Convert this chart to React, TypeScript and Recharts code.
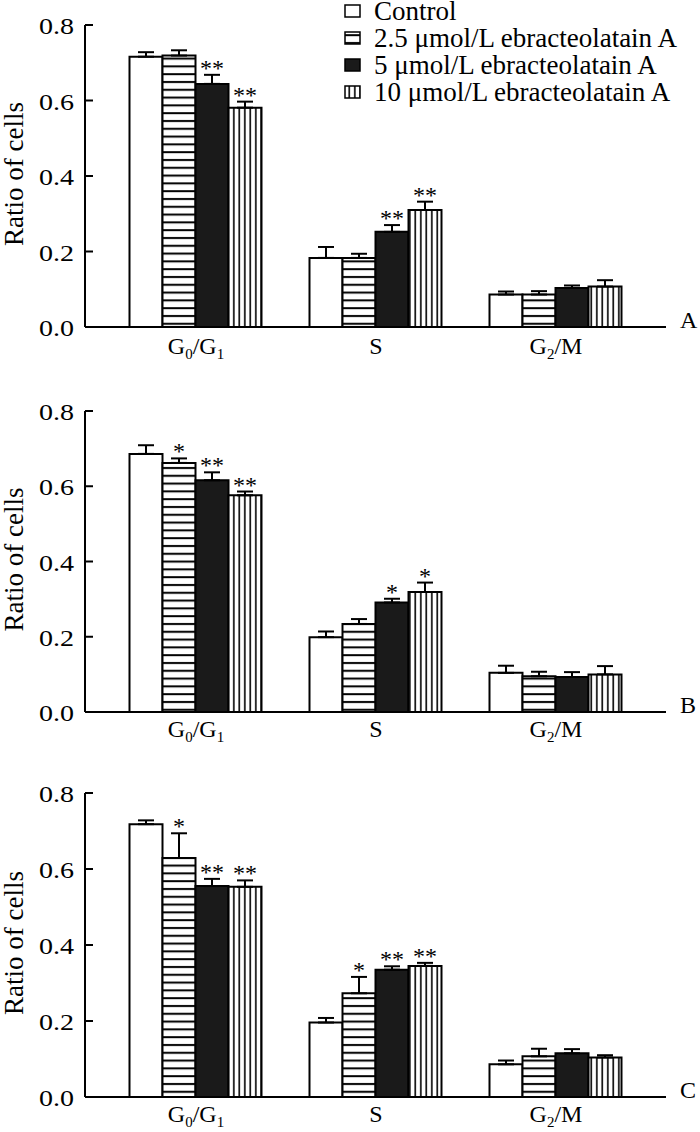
import React from 'react';
import { BarChart, Bar, XAxis, YAxis, ErrorBar, LabelList, Legend } from 'recharts';

const FONT = '"Liberation Serif", "Times New Roman", serif';

const categories = ['G_0/G_1', 'S', 'G_2/M'];
const seriesKeys = ['ctrl', 'd25', 'd5', 'd10'];
const seriesNames = [
  'Control',
  '2.5 μmol/L ebracteolatain A',
  '5 μmol/L ebracteolatain A',
  '10 μmol/L ebracteolatain A',
];
const yTicks = [0, 0.2, 0.4, 0.6, 0.8];

// panel A
const ctrlA = [0.716, 0.183, 0.086];
const ctrlAErr = [0.012, 0.029, 0.008];
const d25A = [0.719, 0.183, 0.086];
const d25AErr = [0.014, 0.011, 0.009];
const d5A = [0.644, 0.252, 0.103];
const d5AErr = [0.024, 0.018, 0.007];
const d10A = [0.581, 0.31, 0.107];
const d10AErr = [0.016, 0.022, 0.017];
const sigA = [['', '', ''], ['', '', ''], ['**', '**', ''], ['**', '**', '']];

// panel B
const ctrlB = [0.686, 0.199, 0.104];
const ctrlBErr = [0.023, 0.015, 0.019];
const d25B = [0.662, 0.234, 0.095];
const d25BErr = [0.012, 0.013, 0.012];
const d5B = [0.616, 0.291, 0.093];
const d5BErr = [0.021, 0.01, 0.013];
const d10B = [0.576, 0.319, 0.1];
const d10BErr = [0.01, 0.025, 0.022];
const sigB = [['', '', ''], ['*', '', ''], ['**', '*', ''], ['**', '*', '']];

// panel C
const ctrlC = [0.718, 0.196, 0.086];
const ctrlCErr = [0.01, 0.012, 0.01];
const d25C = [0.629, 0.273, 0.107];
const d25CErr = [0.065, 0.043, 0.02];
const d5C = [0.555, 0.335, 0.115];
const d5CErr = [0.019, 0.009, 0.011];
const d10C = [0.553, 0.345, 0.104];
const d10CErr = [0.017, 0.008, 0.006];
const sigC = [['', '', ''], ['*', '*', ''], ['**', '**', ''], ['**', '**', '']];

function buildRows(means: number[][], errs: number[][], sigs: string[][]) {
  return categories.map((name, i) => {
    const row: any = { name };
    seriesKeys.forEach((k, s) => {
      row[k] = means[s][i];
      row[k + 'Err'] = [0, errs[s][i]];
      row[k + 'Sig'] = sigs[s][i];
    });
    return row;
  });
}

function Patterns({ id }: { id: string }) {
  return (
    <defs>
      <pattern id={`h${id}`} patternUnits="userSpaceOnUse" width={6} height={7.8}>
        <rect width={6} height={7.8} fill="#fff" />
        <rect y={3} width={6} height={2} fill="#000" />
      </pattern>
      <pattern id={`v${id}`} patternUnits="userSpaceOnUse" width={5.5} height={6}>
        <rect width={5.5} height={6} fill="#fff" />
        <rect x={2} width={1.6} height={6} fill="#000" />
      </pattern>
    </defs>
  );
}

const fillsFor = (id: string) => ['#fff', `url(#h${id})`, '#1a1a1a', `url(#v${id})`];

function XTick({ x, y, payload, drop }: any) {
  const parts = String(payload.value).split(/_(\d)/);
  return (
    <text x={x} y={y + drop} textAnchor="middle" fontFamily={FONT} fontSize={24} fill="#000">
      {parts.map((p, i) =>
        i % 2 === 1 ? (
          <tspan key={i} fontSize={15} dy={5}>{p}</tspan>
        ) : (
          <tspan key={i} dy={i > 0 ? -5 : 0}>{p}</tspan>
        )
      )}
    </text>
  );
}

function YTick({ x, y, payload }: any) {
  return (
    <g>
      <line x1={x + 11} x2={x + 19} y1={y} y2={y} stroke="#000" strokeWidth={2} />
      <text
        transform={`translate(${x},${y + 9}) scale(1.22,1)`}
        textAnchor="end"
        fontFamily={FONT}
        fontSize={23}
        fill="#000"
      >
        {Number(payload.value).toFixed(1)}
      </text>
    </g>
  );
}

function YLabel({ viewBox }: any) {
  const cy = viewBox.y + viewBox.height / 2 - 2;
  return (
    <text
      transform={`translate(23,${cy}) rotate(-90)`}
      textAnchor="middle"
      fontFamily={FONT}
      fontSize={27}
      fill="#000"
    >
      Ratio of cells
    </text>
  );
}

function PanelLetter({ viewBox, letter }: any) {
  return (
    <text x={viewBox.x + viewBox.width + 14} y={viewBox.y + 1} fontFamily={FONT} fontSize={24} fill="#000">
      {letter}
    </text>
  );
}

function starContent(means: number[][], errs: number[][], s: number) {
  return (props: any) => {
    const vb = props.viewBox ?? props;
    const { x, y, width, height } = vb;
    const { value, index } = props;
    if (!value) return null;
    const v = means[s][index];
    const e = errs[s][index];
    const top = y - (e * height) / v;
    return (
      <text x={x + width / 2} y={top + 1} textAnchor="middle" fontFamily={FONT} fontSize={24} fill="#000">
        {value}
      </text>
    );
  };
}

function LegendBox() {
  return (
    <svg width={700} height={110} style={{ display: 'block' }}>
      <Patterns id="L" />
      {seriesNames.map((name, i) => {
        const cy = 11 + i * 27;
        return (
          <g key={name}>
            <rect x={345} y={cy - 6} width={15} height={12} fill={fillsFor('L')[i]} stroke="#000" strokeWidth={1.5} />
            <text x={374} y={cy + 9} fontFamily={FONT} fontSize={27} fill="#000">
              {name}
            </text>
          </g>
        );
      })}
    </svg>
  );
}

interface PanelProps {
  id: string;
  letter: string;
  means: number[][];
  errs: number[][];
  sigs: string[][];
  height: number;
  labelDrop: number;
  showLegend?: boolean;
}

function Panel({ id, letter, means, errs, sigs, height, labelDrop, showLegend }: PanelProps) {
  const data = buildRows(means, errs, sigs);
  const fills = fillsFor(id);
  return (
    <BarChart
      width={700}
      height={height}
      data={data}
      margin={{ top: 25, right: 34, left: 0, bottom: 0 }}
      barGap={0}
      barCategoryGap={23.5}
    >
      <Patterns id={id} />
      <XAxis
        dataKey="name"
        interval={0}
        tickLine={false}
        tickSize={0}
        tickMargin={0}
        height={38}
        padding={{ left: 21, right: 20 }}
        axisLine={{ stroke: '#000', strokeWidth: 2 }}
        tick={<XTick drop={labelDrop} />}
        label={<PanelLetter letter={letter} />}
      />
      <YAxis
        domain={[0, 0.8]}
        ticks={yTicks}
        width={85}
        tickLine={false}
        tickSize={0}
        tickMargin={11}
        axisLine={{ stroke: '#000', strokeWidth: 2 }}
        tick={<YTick />}
        label={<YLabel />}
      />
      {showLegend && (
        <Legend
          layout="vertical"
          align="center"
          verticalAlign="middle"
          wrapperStyle={{ position: 'absolute', top: 0, left: 0, width: 700, height: 110 }}
          content={() => <LegendBox />}
        />
      )}
      {seriesKeys.map((k, s) => (
        <Bar
          key={k}
          dataKey={k}
          name={seriesNames[s]}
          fill={fills[s]}
          stroke="#000"
          strokeWidth={2}
          isAnimationActive={false}
        >
          <ErrorBar
            dataKey={k + 'Err'}
            direction="y"
            width={8}
            stroke="#000"
            strokeWidth={2}
            isAnimationActive={false}
          />
          <LabelList dataKey={k + 'Sig'} content={starContent(means, errs, s)} />
        </Bar>
      ))}
    </BarChart>
  );
}

export default function App() {
  return (
    <div
      style={{
        position: 'absolute',
        left: 0,
        top: 0,
        width: 700,
        height: 1132,
        overflow: 'hidden',
        background: '#fff',
      }}
    >
      <div style={{ position: 'absolute', left: 0, top: 0 }}>
        <Panel
          id="A"
          letter="A"
          means={[ctrlA, d25A, d5A, d10A]}
          errs={[ctrlAErr, d25AErr, d5AErr, d10AErr]}
          sigs={sigA}
          height={365}
          labelDrop={27}
          showLegend
        />
      </div>
      <div style={{ position: 'absolute', left: 0, top: 386 }}>
        <Panel
          id="B"
          letter="B"
          means={[ctrlB, d25B, d5B, d10B]}
          errs={[ctrlBErr, d25BErr, d5BErr, d10BErr]}
          sigs={sigB}
          height={364}
          labelDrop={25}
        />
      </div>
      <div style={{ position: 'absolute', left: 0, top: 768 }}>
        <Panel
          id="C"
          letter="C"
          means={[ctrlC, d25C, d5C, d10C]}
          errs={[ctrlCErr, d25CErr, d5CErr, d10CErr]}
          sigs={sigC}
          height={367}
          labelDrop={25}
        />
      </div>
    </div>
  );
}
